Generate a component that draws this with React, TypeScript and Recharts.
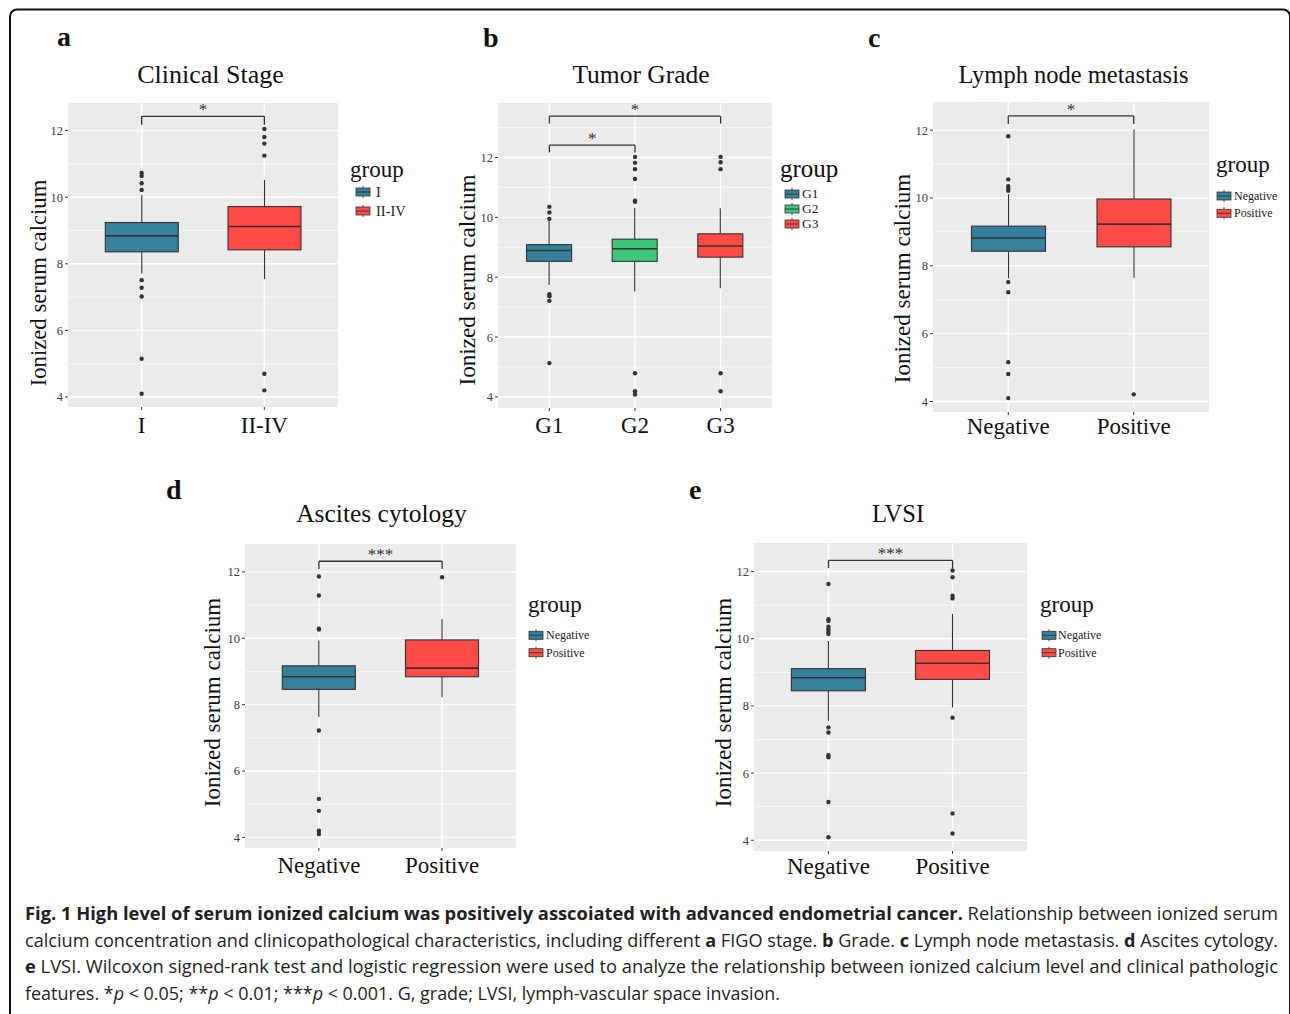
import React from "react";
import { Bar, CartesianGrid, ComposedChart, ReferenceLine, Scatter, XAxis, YAxis } from "recharts";

const SERIF = '"Liberation Serif", "Times New Roman", serif';
const SANS = '"Open Sans", "Noto Sans", sans-serif';
const INK = "#333333";
const BLUE = "#35809b";
const GREEN = "#3ec67b";
const RED = "#ff4a46";

// a  Clinical Stage
const stageGroups = ["I", "II-IV"];
const stageLower = [7.71, 7.54];
const stageQ1 = [8.36, 8.42];
const stageMedian = [8.84, 9.12];
const stageQ3 = [9.24, 9.72];
const stageUpper = [10.07, 10.52];
const stageOutliers = [
  [10.73, 10.64, 10.42, 10.22, 7.51, 7.28, 7.02, 5.15, 4.1],
  [12.05, 11.81, 11.61, 11.25, 4.7, 4.2],
];

// b  Tumor Grade
const gradeGroups = ["G1", "G2", "G3"];
const gradeLower = [7.74, 7.52, 7.63];
const gradeQ1 = [8.53, 8.53, 8.67];
const gradeMedian = [8.89, 8.95, 9.04];
const gradeQ3 = [9.09, 9.27, 9.45];
const gradeUpper = [9.9, 10.32, 10.3];
const gradeOutliers = [
  [10.35, 10.16, 9.95, 7.43, 7.36, 7.21, 5.13],
  [12.02, 11.82, 11.61, 11.28, 10.56, 10.52, 4.79, 4.19, 4.08],
  [12.02, 11.84, 11.61, 4.79, 4.19],
];

// c  Lymph node metastasis
const nodeGroups = ["Negative", "Positive"];
const nodeLower = [7.63, 7.65];
const nodeQ1 = [8.43, 8.56];
const nodeMedian = [8.82, 9.23];
const nodeQ3 = [9.17, 9.97];
const nodeUpper = [10.11, 12.02];
const nodeOutliers = [
  [11.82, 10.55, 10.35, 10.28, 10.21, 7.52, 7.22, 5.16, 4.81, 4.1],
  [4.21],
];

// d  Ascites cytology
const asciteGroups = ["Negative", "Positive"];
const asciteLower = [7.63, 8.22];
const asciteQ1 = [8.46, 8.84];
const asciteMedian = [8.84, 9.1];
const asciteQ3 = [9.17, 9.95];
const asciteUpper = [9.93, 10.58];
const asciteOutliers = [
  [11.86, 11.29, 10.29, 10.26, 7.22, 5.16, 4.8, 4.2, 4.1],
  [11.84],
];

// e  LVSI
const lvsiGroups = ["Negative", "Positive"];
const lvsiLower = [7.55, 7.95];
const lvsiQ1 = [8.45, 8.79];
const lvsiMedian = [8.84, 9.27];
const lvsiQ3 = [9.11, 9.65];
const lvsiUpper = [9.93, 10.74];
const lvsiOutliers = [
  [11.63, 10.58, 10.53, 10.36, 10.28, 10.2, 10.14, 7.36, 7.21, 6.53, 6.47, 5.14, 4.09],
  [12.03, 11.83, 11.28, 11.2, 7.65, 4.8, 4.2],
];

const majorTicks = [4, 6, 8, 10, 12];

type Bracket = { from: string; to: string; y: number; tip: number; mark: string };

type PanelProps = {
  letter: string;
  letterPos: [number, number];
  title: string;
  titlePos: [number, number];
  titleSize: number;
  groups: string[];
  lower: number[];
  q1: number[];
  median: number[];
  q3: number[];
  upper: number[];
  outliers: number[][];
  colors: string[];
  domain: [number, number];
  minor: number[];
  brackets: Bracket[];
  plot: { x: number; y: number; w: number; h: number };
  pad: number;
  boxW: number;
  tickGap: number;
  axisTitle: [number, number];
  axisTitleSize: number;
  legend: { x: number; y: number; keyX: number; keyYs: number[]; labelX: number; size: number; groupSize: number };
};

function BoxShape(props: any) {
  const { x, y, width, height, payload } = props;
  if (!payload || !isFinite(y) || !isFinite(height)) return null;
  const k = height / (payload.hi - payload.lo);
  const py = (v: number) => y + (payload.hi - v) * k;
  const cx = x + width / 2;
  const top = py(payload.q3);
  const bottom = py(payload.q1);
  return (
    <g>
      <line x1={cx} x2={cx} y1={py(payload.hi)} y2={top} stroke={INK} strokeWidth={1.1} />
      <line x1={cx} x2={cx} y1={bottom} y2={py(payload.lo)} stroke={INK} strokeWidth={1.1} />
      <rect x={x} y={top} width={width} height={bottom - top} fill={payload.color} stroke={INK} strokeWidth={1.1} />
      <line x1={x} x2={x + width} y1={py(payload.med)} y2={py(payload.med)} stroke={INK} strokeWidth={1.6} />
    </g>
  );
}

function Outlier(props: any) {
  if (props.cx == null || props.cy == null) return null;
  return <circle cx={props.cx} cy={props.cy} r={2.2} fill={INK} />;
}

function LegendKey({ x, cy, color }: { x: number; cy: number; color: string }) {
  return (
    <g>
      <line x1={x + 7} x2={x + 7} y1={cy - 6} y2={cy + 6} stroke={INK} strokeWidth={0.9} />
      <rect x={x} y={cy - 4} width={14} height={8} fill={color} stroke={INK} strokeWidth={0.8} />
      <line x1={x} x2={x + 14} y1={cy} y2={cy} stroke={INK} strokeWidth={0.9} />
    </g>
  );
}

function Panel(p: PanelProps) {
  const rows = p.groups.map((g, i) => ({
    cat: g,
    lo: p.lower[i],
    q1: p.q1[i],
    med: p.median[i],
    q3: p.q3[i],
    hi: p.upper[i],
    color: p.colors[i],
  }));
  const points = p.outliers.flatMap((vals, i) => vals.map((v) => ({ cat: p.groups[i], v })));
  const axisW = 60;
  const axisH = 42;
  const headroom = 24;
  const [tx, ty] = p.axisTitle;
  return (
    <>
      <svg
        width={1290}
        height={1014}
        style={{ position: "absolute", left: 0, top: 0, pointerEvents: "none" }}
      >
        <text x={p.letterPos[0]} y={p.letterPos[1]} fontFamily={SERIF} fontWeight="bold" fontSize={28} fill="#111">
          {p.letter}
        </text>
        <text x={p.titlePos[0]} y={p.titlePos[1]} textAnchor="middle" fontFamily={SERIF} fontSize={p.titleSize} fill="#111">
          {p.title}
        </text>
        <text
          transform={`translate(${tx},${ty}) rotate(-90)`}
          textAnchor="middle"
          fontFamily={SERIF}
          fontSize={p.axisTitleSize}
          fill="#111"
        >
          Ionized serum calcium
        </text>
        <text x={p.legend.x} y={p.legend.y} fontFamily={SERIF} fontSize={p.legend.groupSize} fill="#111">
          group
        </text>
        {p.groups.map((g, i) => (
          <g key={g}>
            <LegendKey x={p.legend.keyX} cy={p.legend.keyYs[i]} color={p.colors[i]} />
            <text
              x={p.legend.labelX}
              y={p.legend.keyYs[i] + p.legend.size * 0.33}
              fontFamily={SERIF}
              fontSize={p.legend.size}
              fill="#222"
            >
              {g}
            </text>
          </g>
        ))}
      </svg>
      <div style={{ position: "absolute", left: p.plot.x - axisW, top: p.plot.y - headroom }}>
        <ComposedChart
          width={p.plot.w + axisW}
          height={p.plot.h + axisH + headroom}
          data={rows}
          margin={{ top: headroom, right: 0, bottom: 0, left: 0 }}
        >
          <CartesianGrid
            fill="#ebebeb"
            stroke="#ffffff"
            strokeWidth={0.6}
            vertical={false}
            horizontalValues={p.minor}
          />
          <CartesianGrid stroke="#ffffff" strokeWidth={1.4} vertical={false} horizontalValues={majorTicks} />
          <XAxis
            dataKey="cat"
            type="category"
            allowDuplicatedCategory={false}
            padding={{ left: p.pad, right: p.pad }}
            axisLine={false}
            tickLine={{ stroke: INK }}
            tickSize={3}
            tickMargin={p.tickGap}
            interval={0}
            height={axisH}
            tick={{ fontFamily: SERIF, fontSize: 23, fill: "#111" }}
          />
          <YAxis
            type="number"
            domain={p.domain}
            allowDataOverflow
            ticks={majorTicks}
            axisLine={false}
            tickLine={{ stroke: INK }}
            tickSize={3}
            tickMargin={2}
            width={axisW}
            tick={{ fontFamily: SERIF, fontSize: 12.5, fill: "#3a3a3a" }}
          />
          {p.groups.map((g) => (
            <ReferenceLine key={g} x={g} stroke="#ffffff" strokeWidth={1.4} zIndex={-90} />
          ))}
          <Bar
            dataKey={(d: any) => [d.lo, d.hi]}
            barSize={p.boxW}
            shape={<BoxShape />}
            isAnimationActive={false}
          />
          <Scatter data={points} dataKey="v" shape={<Outlier />} isAnimationActive={false} />
          {p.brackets.map((b, i) => (
            <React.Fragment key={i}>
              <ReferenceLine
                segment={[
                  { x: b.from, y: b.y },
                  { x: b.to, y: b.y },
                ]}
                stroke={INK}
                strokeWidth={1.3}
                label={{ value: b.mark, position: "top", offset: 1, fill: INK, fontSize: 17, fontFamily: SERIF }}
              />
              <ReferenceLine
                segment={[
                  { x: b.from, y: b.y },
                  { x: b.from, y: b.tip },
                ]}
                stroke={INK}
                strokeWidth={1.3}
              />
              <ReferenceLine
                segment={[
                  { x: b.to, y: b.y },
                  { x: b.to, y: b.tip },
                ]}
                stroke={INK}
                strokeWidth={1.3}
              />
            </React.Fragment>
          ))}
        </ComposedChart>
      </div>
    </>
  );
}

function Caption() {
  const common = { fontFamily: SANS, fontSize: 18, fill: "#231f20", lengthAdjust: "spacingAndGlyphs" as const };
  return (
    <svg width={1290} height={1014} style={{ position: "absolute", left: 0, top: 0 }}>
      <text x={25} y={920} textLength={1253} {...common}>
        <tspan fontWeight="bold">
          Fig. 1 High level of serum ionized calcium was positively asscoiated with advanced endometrial cancer.
        </tspan>
        <tspan> Relationship between ionized serum</tspan>
      </text>
      <text x={25} y={947} textLength={1253} {...common}>
        <tspan>calcium concentration and clinicopathological characteristics, including different </tspan>
        <tspan fontWeight="bold">a</tspan>
        <tspan> FIGO stage. </tspan>
        <tspan fontWeight="bold">b</tspan>
        <tspan> Grade. </tspan>
        <tspan fontWeight="bold">c</tspan>
        <tspan> Lymph node metastasis. </tspan>
        <tspan fontWeight="bold">d</tspan>
        <tspan> Ascites cytology.</tspan>
      </text>
      <text x={25} y={973} textLength={1253} {...common}>
        <tspan fontWeight="bold">e</tspan>
        <tspan>
          {" "}
          LVSI. Wilcoxon signed-rank test and logistic regression were used to analyze the relationship between ionized
          calcium level and clinical pathologic
        </tspan>
      </text>
      <text x={25} y={1000} textLength={755} {...common}>
        <tspan>features. *</tspan>
        <tspan fontStyle="italic">p</tspan>
        <tspan> &lt; 0.05; **</tspan>
        <tspan fontStyle="italic">p</tspan>
        <tspan> &lt; 0.01; ***</tspan>
        <tspan fontStyle="italic">p</tspan>
        <tspan> &lt; 0.001. G, grade; LVSI, lymph-vascular space invasion.</tspan>
      </text>
    </svg>
  );
}

export default function App() {
  return (
    <div style={{ position: "absolute", left: 0, top: 0, width: 1290, height: 1014, background: "#fff", overflow: "hidden" }}>
      <svg width={1290} height={1014} style={{ position: "absolute", left: 0, top: 0 }}>
        <rect x={10} y={9.5} width={1280} height={1010} rx={7} fill="none" stroke="#111" strokeWidth={2} />
      </svg>
      <Panel
        letter="a"
        letterPos={[57, 46]}
        title="Clinical Stage"
        titlePos={[210.5, 83]}
        titleSize={26}
        groups={stageGroups}
        lower={stageLower}
        q1={stageQ1}
        median={stageMedian}
        q3={stageQ3}
        upper={stageUpper}
        outliers={stageOutliers}
        colors={[BLUE, RED]}
        domain={[3.7, 12.83]}
        minor={[5, 7, 9, 11]}
        brackets={[{ from: "I", to: "II-IV", y: 12.43, tip: 12.18, mark: "*" }]}
        plot={{ x: 68, y: 103, w: 270, h: 304 }}
        pad={12.3}
        boxW={73}
        tickGap={7}
        axisTitle={[45.5, 283]}
        axisTitleSize={22.7}
        legend={{ x: 350, y: 177, keyX: 356, keyYs: [192, 211], labelX: 376, size: 14.5, groupSize: 23 }}
      />
      <Panel
        letter="b"
        letterPos={[483, 47]}
        title="Tumor Grade"
        titlePos={[641, 83]}
        titleSize={25.5}
        groups={gradeGroups}
        lower={gradeLower}
        q1={gradeQ1}
        median={gradeMedian}
        q3={gradeQ3}
        upper={gradeUpper}
        outliers={gradeOutliers}
        colors={[BLUE, GREEN, RED]}
        domain={[3.63, 13.82]}
        minor={[5, 7, 9, 11, 13]}
        brackets={[
          { from: "G1", to: "G2", y: 12.41, tip: 12.17, mark: "*" },
          { from: "G1", to: "G3", y: 13.38, tip: 13.13, mark: "*" },
        ]}
        plot={{ x: 498, y: 103, w: 274, h: 305 }}
        pad={8.6}
        boxW={45}
        tickGap={6}
        axisTitle={[475, 280]}
        axisTitleSize={23.2}
        legend={{ x: 780, y: 177, keyX: 785, keyYs: [194, 209, 224], labelX: 802, size: 13.5, groupSize: 25 }}
      />
      <Panel
        letter="c"
        letterPos={[868, 47]}
        title="Lymph node metastasis"
        titlePos={[1073.5, 83]}
        titleSize={24.5}
        groups={nodeGroups}
        lower={nodeLower}
        q1={nodeQ1}
        median={nodeMedian}
        q3={nodeQ3}
        upper={nodeUpper}
        outliers={nodeOutliers}
        colors={[BLUE, RED]}
        domain={[3.69, 12.83]}
        minor={[5, 7, 9, 11]}
        brackets={[{ from: "Negative", to: "Positive", y: 12.42, tip: 12.18, mark: "*" }]}
        plot={{ x: 933, y: 102, w: 276, h: 310 }}
        pad={12.5}
        boxW={74}
        tickGap={3}
        axisTitle={[909.5, 278.5]}
        axisTitleSize={23}
        legend={{ x: 1216, y: 172, keyX: 1217, keyYs: [196, 213.3], labelX: 1234, size: 12, groupSize: 23 }}
      />
      <Panel
        letter="d"
        letterPos={[166, 499]}
        title="Ascites cytology"
        titlePos={[381.5, 522]}
        titleSize={25.5}
        groups={asciteGroups}
        lower={asciteLower}
        q1={asciteQ1}
        median={asciteMedian}
        q3={asciteQ3}
        upper={asciteUpper}
        outliers={asciteOutliers}
        colors={[BLUE, RED]}
        domain={[3.68, 12.84]}
        minor={[5, 7, 9, 11]}
        brackets={[{ from: "Negative", to: "Positive", y: 12.32, tip: 12.09, mark: "***" }]}
        plot={{ x: 245, y: 544, w: 271, h: 304 }}
        pad={12.3}
        boxW={73}
        tickGap={6}
        axisTitle={[220, 702.5]}
        axisTitleSize={23}
        legend={{ x: 528, y: 612, keyX: 529, keyYs: [635.3, 652.7], labelX: 546, size: 12, groupSize: 23 }}
      />
      <Panel
        letter="e"
        letterPos={[689, 499]}
        title="LVSI"
        titlePos={[898, 522]}
        titleSize={24.5}
        groups={lvsiGroups}
        lower={lvsiLower}
        q1={lvsiQ1}
        median={lvsiMedian}
        q3={lvsiQ3}
        upper={lvsiUpper}
        outliers={lvsiOutliers}
        colors={[BLUE, RED]}
        domain={[3.68, 12.85]}
        minor={[5, 7, 9, 11]}
        brackets={[{ from: "Negative", to: "Positive", y: 12.33, tip: 12.1, mark: "***" }]}
        plot={{ x: 754, y: 543, w: 273, h: 308 }}
        pad={12.4}
        boxW={74}
        tickGap={4}
        axisTitle={[730.5, 702.5]}
        axisTitleSize={23}
        legend={{ x: 1040, y: 612, keyX: 1042, keyYs: [635.3, 652.7], labelX: 1058, size: 12, groupSize: 23 }}
      />
      <Caption />
    </div>
  );
}
